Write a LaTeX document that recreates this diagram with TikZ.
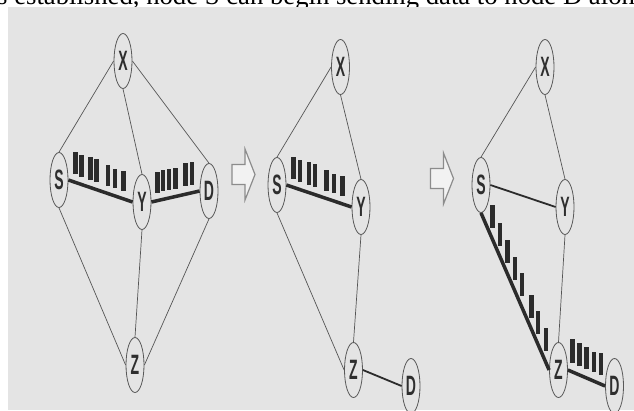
\documentclass[tikz,border=0pt]{standalone}
\usepackage{fontspec}
\setmainfont{Liberation Serif}
\newfontfamily\nodefont[FakeStretch=0.5]{Liberation Sans}
\usetikzlibrary{calc,shapes.geometric}

\definecolor{panelgray}{HTML}{E4E4E4}
\definecolor{linkgray}{HTML}{555555}
\definecolor{inkdark}{HTML}{2B2B2B}
\definecolor{arrowgray}{HTML}{8C8C8C}

% hollow block arrow between the panels, tail at (#1,#2)
\newcommand{\hollowarrow}[2]{%
  \draw[blockarrow] (#1,#2) ++(0,-10) -- ++(13,0) -- ++(0,-15.5) -- ++(10,25.5)
    -- ++(-10,25.5) -- ++(0,-15.5) -- ++(-13,0) -- cycle;}

\begin{document}
\begin{tikzpicture}[
  x=1pt, y=-1pt,
  netnode/.style={draw=black!65, line width=0.8pt, ellipse, fill=panelgray, minimum width=18pt, minimum height=55pt, inner sep=0pt, font=\nodefont\bfseries\fontsize{28}{28}\selectfont, text=black!82},
  thinlink/.style={draw=linkgray, line width=0.7pt},
  midlink/.style={draw=inkdark, line width=1.8pt},
  routelink/.style={draw=inkdark, line width=3.5pt},
  packet/.style={fill=inkdark},
  blockarrow/.style={draw=arrowgray, line width=1.2pt, fill=black!5}
]
\useasboundingbox (0,0) rectangle (634,410);
\clip (0,0) rectangle (634,410);
\fill[white] (0,0) rectangle (634,410);
\node[anchor=base west, inner sep=0pt, font=\fontsize{26.7}{30}\selectfont] (caption) at (-3,4.3) {s established, node S can begin sending data to node D along};
\fill[panelgray] (8,7) rectangle (634,410);

% panel 1
\node[netnode] (X1) at (123,61) {X};
\node[netnode] (S1) at (59,180) {S};
\node[netnode] (Y1) at (142,202) {Y};
\node[netnode] (D1) at (209,191) {D};
\node[netnode] (Z1) at (135,365) {Z};

\draw[thinlink] (X1.west) -- (S1.north);
\draw[thinlink] (X1.south) -- (Y1.north);
\draw[thinlink] (X1.east) -- (D1.north);
\draw[thinlink] (S1.south) -- (Z1.west);
\draw[thinlink] (Y1.south) -- (Z1.north);
\draw[thinlink] (D1.south) -- (Z1.east);
\draw[routelink] (S1.east) -- (Y1.west);
\draw[routelink] (Y1.east) -- (D1.west);

\foreach \t/\h in {0.108/22, 0.205/22, 0.346/23, 0.435/23, 0.615/21, 0.728/19, 0.858/20}
  \fill[packet] ($(S1.east)!\t!(Y1.west)$) ++(-2.2,-8) rectangle ++(4.4,-\h);
\foreach \t/\h in {0.127/21, 0.245/21, 0.365/21, 0.5/21, 0.704/23, 0.841/23}
  \fill[packet] ($(Y1.east)!\t!(D1.west)$) ++(-2.2,-8) rectangle ++(4.4,-\h);

\hollowarrow{232}{174.5}

% panel 2
\node[netnode] (X2) at (340.5,67) {X};
\node[netnode] (S2) at (277,185) {S};
\node[netnode] (Y2) at (361,207) {Y};
\node[netnode] (Z2) at (353.5,370) {Z};
\node[netnode] (D2) at (411,386) {D};

\draw[thinlink] (X2.west) -- (S2.north);
\draw[thinlink] (X2.south) -- (Y2.north);
\draw[thinlink] (S2.south) -- (Z2.west);
\draw[thinlink] (Y2.south) -- (Z2.north);
\draw[routelink] (S2.east) -- (Y2.west);
\draw[midlink] (Z2.east) -- (D2.west);

\foreach \t/\h in {0.108/22, 0.205/22, 0.346/23, 0.435/23, 0.615/21, 0.728/19, 0.858/20}
  \fill[packet] ($(S2.east)!\t!(Y2.west)$) ++(-2.2,-8) rectangle ++(4.4,-\h);

\hollowarrow{430.5}{178.5}

% panel 3
\node[netnode] (X3) at (545,67) {X};
\node[netnode] (S3) at (481,185) {S};
\node[netnode] (Y3) at (565,207) {Y};
\node[netnode] (Z3) at (558.5,370) {Z};
\node[netnode] (D3) at (614.5,386) {D};

\draw[thinlink] (X3.west) -- (S3.north);
\draw[thinlink] (X3.south) -- (Y3.north);
\draw[thinlink] (Y3.south) -- (Z3.north);
\draw[midlink] (S3.east) -- (Y3.west);
\draw[routelink] (S3.south) -- (Z3.west);
\draw[routelink] (Z3.east) -- (D3.west);

\foreach \t in {0.166, 0.282, 0.39, 0.5, 0.599, 0.74, 0.838, 0.951}
  \fill[packet] ($(S3.south)!\t!(Z3.west)$) ++(-2.2,-11) rectangle ++(4.4,-23);
\foreach \t/\h in {0.126/24, 0.308/23, 0.495/22, 0.697/20, 0.889/22}
  \fill[packet] ($(Z3.east)!\t!(D3.west)$) ++(-2.2,-9) rectangle ++(4.4,-\h);
\end{tikzpicture}
\end{document}
